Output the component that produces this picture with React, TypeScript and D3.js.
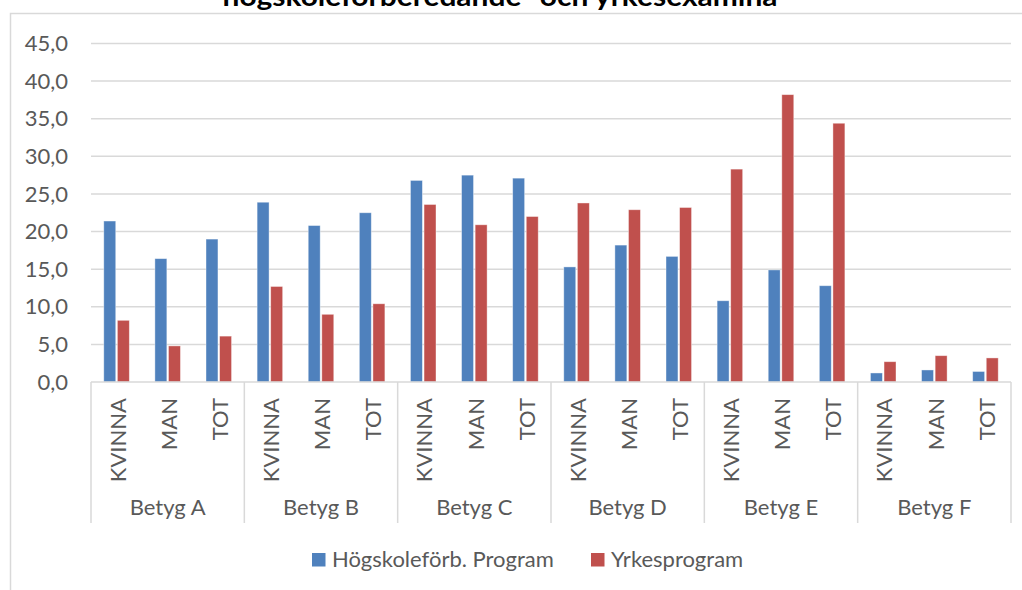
import React from 'react';
import * as d3 from 'd3';

// grade groups and the sub-categories inside each
const groups = ['Betyg A', 'Betyg B', 'Betyg C', 'Betyg D', 'Betyg E', 'Betyg F'];
const subs = ['KVINNA', 'MAN', 'TOT'];

const seriesNames = ['Högskoleförb. Program', 'Yrkesprogram'];
const seriesColors = ['#4f81bd', '#c0504d'];

// values per group, in order KVINNA, MAN, TOT
const hogskole = [21.4, 16.4, 19.0, 23.9, 20.8, 22.5, 26.8, 27.5, 27.1, 15.3, 18.2, 16.7, 10.8, 14.9, 12.8, 1.2, 1.6, 1.4];
const yrkes = [8.2, 4.8, 6.1, 12.7, 9.0, 10.4, 23.6, 20.9, 22.0, 23.8, 22.9, 23.2, 28.3, 38.2, 34.4, 2.7, 3.5, 3.2];

const yTicks = [0, 5, 10, 15, 20, 25, 30, 35, 40, 45];
const title = 'högskoleförberedande- och yrkesexamina';

const W = 1022;
const H = 590;
const left = 91;
const right = 1011;
const top = 43.5;
const bottom = 382;
const font = 'Lato, "Open Sans", sans-serif';
const fs = 22;
const textColor = '#595959';
const gridColor = '#d9d9d9';

const App = () => {
  const cats = d3.range(groups.length * subs.length);
  const x = d3.scaleBand<number>().domain(cats).range([left, right]).paddingInner(0.5).paddingOuter(0.25);
  const xs = d3.scaleBand<number>().domain([0, 1]).range([0, x.bandwidth()]).paddingInner(0.12);
  const step = (right - left) / cats.length;
  const gx = d3.scaleBand<string>().domain(groups).range([left, right]);
  const y = d3.scaleLinear().domain([0, 45]).range([bottom, top]);
  const fmt = (v: number) => d3.format('.1f')(v).replace('.', ',');
  const series = [hogskole, yrkes];

  return (
    <svg width={W} height={H} style={{ position: 'absolute', left: 0, top: 0, background: '#fff' }} fontFamily={font}>
      {/* chart frame */}
      <rect x={10.5} y={13.5} width={W + 20} height={H + 20} fill="none" stroke={gridColor} strokeWidth={1.5} />
      <text x={500} y={6} textAnchor="middle" fontWeight="bold" fontSize={26} fill="#000" textLength={555} lengthAdjust="spacingAndGlyphs">{title}</text>

      {yTicks.map((t) => (
        <g key={t}>
          {t > 0 && <line x1={left} x2={right} y1={y(t)} y2={y(t)} stroke={gridColor} strokeWidth={1.5} />}
          <text x={68} y={y(t)} dy="0.35em" textAnchor="end" fontSize={fs} fill={textColor}>{fmt(t)}</text>
        </g>
      ))}

      {series.map((vals, si) =>
        vals.map((v, i) => (
          <rect
            key={si + '-' + i}
            x={(x(i) as number) + (xs(si) as number)}
            y={y(v)}
            width={xs.bandwidth()}
            height={bottom - y(v)}
            fill={seriesColors[si]}
            stroke="#fff"
            strokeOpacity={0.5}
            strokeWidth={0.8}
          />
        ))
      )}

      {/* axis line and group separators */}
      <line x1={left} x2={right} y1={bottom} y2={bottom} stroke={gridColor} strokeWidth={1.5} />
      {d3.range(groups.length + 1).map((k) => (
        <line key={k} x1={left + k * gx.bandwidth()} x2={left + k * gx.bandwidth()} y1={bottom} y2={523} stroke={gridColor} strokeWidth={1.5} />
      ))}

      {cats.map((i) => {
        const cx = left + step * (i + 0.5) + 1.5;
        return (
          <text key={i} transform={`translate(${cx},398) rotate(-90)`} textAnchor="end" dy="0.35em" fontSize={fs} fill={textColor}>
            {subs[i % subs.length]}
          </text>
        );
      })}

      {groups.map((g) => (
        <text key={g} x={(gx(g) as number) + gx.bandwidth() / 2} y={515} textAnchor="middle" fontSize={fs} fill={textColor}>{g}</text>
      ))}

      {/* legend */}
      {[312, 591].map((lx, si) => (
        <g key={si}>
          <rect x={lx} y={553} width={13.5} height={13.5} fill={seriesColors[si]} />
          <text x={lx + 20} y={566.5} fontSize={fs} fill={textColor}>{seriesNames[si]}</text>
        </g>
      ))}
    </svg>
  );
};

export default App;
